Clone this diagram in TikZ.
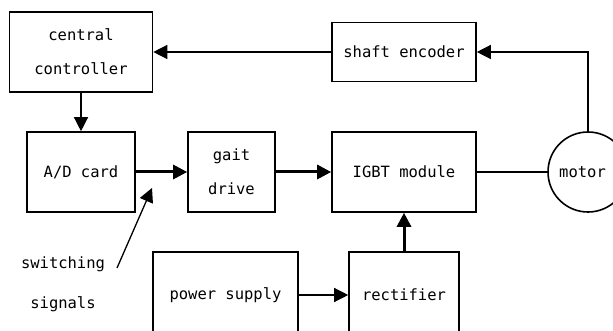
\documentclass[tikz,border=0pt]{standalone}
\usepackage{fontspec}
\setmonofont{DejaVu Sans Mono}
\usetikzlibrary{arrows.meta}
\begin{document}
\begin{tikzpicture}[x=1pt,y=-1pt,
  blk/.style={draw,line width=1.6pt,inner sep=0pt,font=\ttfamily\fontsize{15.5}{34}\selectfont,align=center},
  thin/.style={line width=1.3pt,-{Triangle[length=14pt,width=14pt]}},
  thick/.style={line width=3pt,-{Triangle[length=14pt,width=14pt]}},
  plain/.style={line width=1.3pt},
  lbl/.style={font=\ttfamily\fontsize{15.5}{34}\selectfont,inner sep=0pt}]
\clip (0,0) rectangle (613,331);
\fill[white] (0,0) rectangle (613,331);
\node[blk,minimum width=143pt,minimum height=80pt] (cc) at (81,52) {central\\controller};
\node[blk,minimum width=144pt,minimum height=59pt] (se) at (404,52) {shaft encoder};
\node[blk,minimum width=108pt,minimum height=80pt] (ad) at (81,172) {A/D card};
\node[blk,minimum width=87pt,minimum height=80pt] (gd) at (231.5,172) {gait\\drive};
\node[blk,minimum width=144pt,minimum height=80pt] (ig) at (404,172) {IGBT module};
\node[draw,line width=1.6pt,circle,minimum size=80pt,inner sep=0pt] (mo) at (588,172) {};
\node[lbl,anchor=west] (mot) at (559,172) {motor};
\node[blk,minimum width=145pt,minimum height=86pt] (ps) at (225.5,295) {power supply};
\node[blk,minimum width=110pt,minimum height=86pt] (re) at (404,295) {rectifier};
\node[lbl] (sw1) at (63,264) {switching};
\node[lbl] (sw2) at (63,304) {signals};
\coordinate (swa) at (117,268);
\coordinate (swb) at (152,188);
\draw[thin] (se.west) -- (cc.east);
\draw[thin] (mo.north) |- (se.east);
\draw[thin] (cc.south) -- (ad.north);
\draw[thick] (ad.east) -- (gd.west);
\draw[thick] (gd.east) -- (ig.west);
\draw[plain] (ig.east) -- (mo.west);
\draw[thin] (ps.east) -- (re.west);
\draw[thick] (re.north) -- (ig.south);
\draw[thin] (swa) -- (swb);
\end{tikzpicture}
\end{document}
